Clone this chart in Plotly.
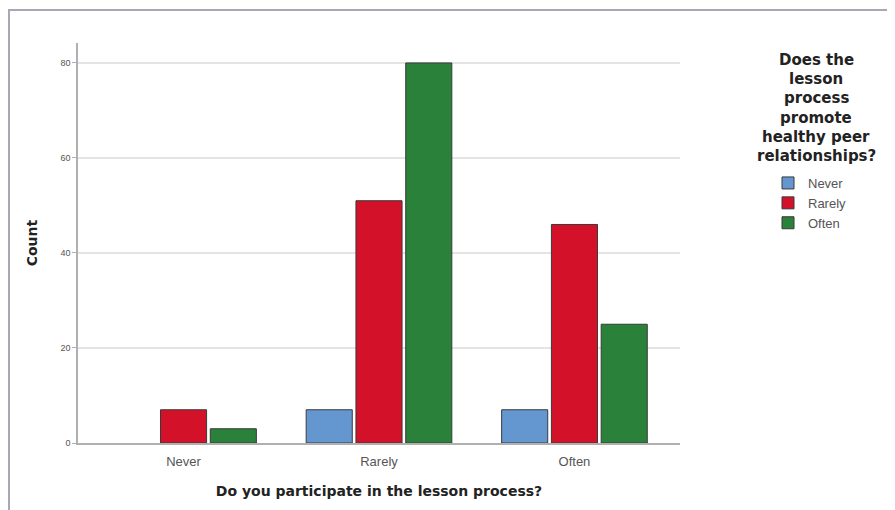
import plotly.graph_objects as go

# data
categories = ["Never", "Rarely", "Often"]
series_names = ["Never", "Rarely", "Often"]
never_vals = [None, 7, 7]
rarely_vals = [7, 51, 46]
often_vals = [3, 80, 25]
y_ticks = [0, 20, 40, 60, 80]
legend_title = ["Does the", "lesson", "process", "promote", "healthy peer", "relationships?"]

colors = ["#6496D0", "#D31129", "#2A8139"]
values = [never_vals, rarely_vals, often_vals]

W, H = 895, 510
L, R, T, B = 70, 223, 35, 75
pw, ph = W - L - R, H - T - B

fig = go.Figure()
for name, vals, col in zip(series_names, values, colors):
    fig.add_trace(go.Bar(
        x=categories, y=vals, name=name,
        marker=dict(color=col, line=dict(color="#3a3a3a", width=1)),
    ))

font = "Liberation Sans, Arial, sans-serif"
bold_font = "DejaVu Sans, sans-serif"


def px_x(p):
    return (p - L) / pw


def px_y(p):
    return (H - B - p) / ph


# legend title, one line per annotation so the spacing can follow the picture
title_notes = []
for i, line in enumerate(legend_title):
    title_notes.append(dict(
        x=px_x(808), y=px_y(52 + i * 19.2), xref="paper", yref="paper",
        xanchor="center", yanchor="middle", showarrow=False,
        text="<b>" + line + "</b>",
        font=dict(size=15, color="#222", family=bold_font),
    ))

fig.update_layout(
    width=W, height=H,
    margin=dict(l=L, r=R, t=T, b=B),
    paper_bgcolor="white", plot_bgcolor="white",
    barmode="group", bargap=0.236, bargroupgap=0.074,
    font=dict(family=font, color="#333"),
    showlegend=True,
    legend=dict(
        x=px_x(760), y=px_y(160), xanchor="left", yanchor="top",
        font=dict(size=13, color="#555"), itemwidth=30,
        tracegroupgap=0, traceorder="normal",
    ),
    xaxis=dict(
        range=[-0.54, 2.54], showline=True, linecolor="#b0b0b0", linewidth=1.5,
        ticks="outside", ticklen=6, tickcolor="rgba(0,0,0,0)",
        tickfont=dict(size=13, color="#555"),
        title=dict(text="<b>Do you participate in the lesson process?</b>",
                   font=dict(size=14, color="#222", family=bold_font), standoff=18),
    ),
    yaxis=dict(
        range=[0, 84.2], tickvals=y_ticks, showline=True, linecolor="#b0b0b0",
        linewidth=1.5, showgrid=True, gridcolor="#e4e4e4", gridwidth=1.5,
        ticks="outside", ticklen=4, tickcolor="#b0b0b0", zeroline=False,
        tickfont=dict(size=9, color="#555"),
        title=dict(text="<b>Count</b>", font=dict(size=14, color="#222", family=bold_font),
                   standoff=20),
    ),
    annotations=title_notes,
    shapes=[dict(
        type="rect", xref="paper", yref="paper",
        x0=px_x(1), x1=px_x(905), y0=px_y(2), y1=px_y(530),
        line=dict(color="#a7a7b5", width=2), layer="below",
    )],
)

fig.write_html("out.html")
